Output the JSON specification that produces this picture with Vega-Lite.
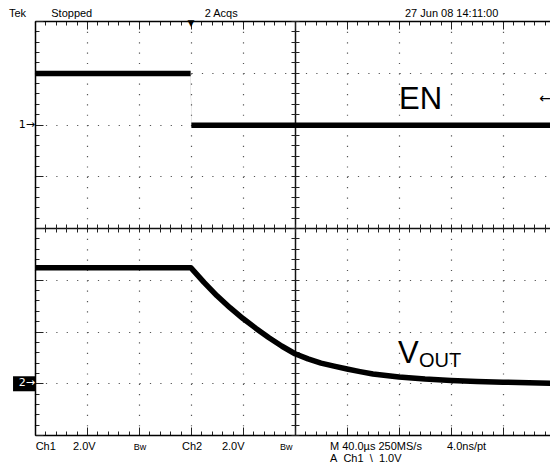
{
  "$schema": "https://vega.github.io/schema/vega-lite/v6.json",
  "width": 515,
  "height": 414,
  "autosize": {"type": "none"},
  "padding": {"left": 35, "top": 21, "right": 0, "bottom": 35},
  "background": "white",
  "data": {"values": [{}]},
  "config": {"view": {"stroke": null}, "text": {"font": "Liberation Sans", "color": "black"}},
  "datasets": {
    "en": [
      {"t": -120, "lo": 1.86, "hi": 2.08},
      {"t": -0.3, "lo": 1.86, "hi": 2.08},
      {"t": 0.3, "lo": -0.14, "hi": 0.08},
      {"t": 280, "lo": -0.14, "hi": 0.08}
    ],
    "vout": [
      {"t": -120, "v": 4.46},
      {"t": 0, "v": 4.46},
      {"t": 10, "v": 3.9},
      {"t": 20, "v": 3.38},
      {"t": 30, "v": 2.92},
      {"t": 40, "v": 2.5},
      {"t": 50, "v": 2.12},
      {"t": 60, "v": 1.76},
      {"t": 70, "v": 1.43},
      {"t": 80, "v": 1.14},
      {"t": 90, "v": 0.94},
      {"t": 100, "v": 0.78},
      {"t": 110, "v": 0.66},
      {"t": 120, "v": 0.55},
      {"t": 130, "v": 0.45},
      {"t": 140, "v": 0.36},
      {"t": 160, "v": 0.24},
      {"t": 180, "v": 0.16},
      {"t": 200, "v": 0.11},
      {"t": 220, "v": 0.07},
      {"t": 240, "v": 0.04},
      {"t": 260, "v": 0.02},
      {"t": 280, "v": 0.0}
    ]
  },
  "layer": [
    {
      "data": {"name": "en"},
      "mark": {"type": "area", "color": "black", "clip": true},
      "encoding": {
        "x": {"field": "t", "type": "quantitative", "scale": {"domain": [-120, 276.15], "nice": false, "zero": false},
          "axis": {"orient": "bottom", "title": null, "labels": false, "domain": true, "domainColor": "black", "domainWidth": 1.5,
            "values": [-120,-112,-104,-96,-88,-80,-72,-64,-56,-48,-40,-32,-24,-16,-8,0,8,16,24,32,40,48,56,64,72,80,88,96,104,112,120,128,136,144,152,160,168,176,184,192,200,208,216,224,232,240,248,256,264,272],
            "tickColor": "#222",
            "tickSize": {"condition": {"test": "datum.value % 40 === 0", "value": -8}, "value": -4},
            "grid": true,
            "gridOpacity": {"condition": {"test": "datum.value % 40 === 0", "value": 1}, "value": 0},
            "gridDash": {"condition": {"test": "datum.value === 80", "value": []}, "value": [1.2, 9.15]},
            "gridColor": {"condition": {"test": "datum.value === 80", "value": "#111"}, "value": "#555"},
            "gridWidth": {"condition": {"test": "datum.value === 80", "value": 1.5}, "value": 1.2}}},
        "y": {"field": "hi", "type": "quantitative", "scale": {"domain": [-12, 4], "nice": false, "zero": false},
          "axis": {"orient": "left", "title": null, "labels": false, "domain": true, "domainColor": "black", "domainWidth": 1.5,
            "values": [-12,-11.6,-11.2,-10.8,-10.4,-10,-9.6,-9.2,-8.8,-8.4,-8,-7.6,-7.2,-6.8,-6.4,-6,-5.6,-5.2,-4.8,-4.4,-4,-3.6,-3.2,-2.8,-2.4,-2,-1.6,-1.2,-0.8,-0.4,0,0.4,0.8,1.2,1.6,2,2.4,2.8,3.2,3.6,4],
            "tickColor": "#222",
            "tickSize": {"condition": {"test": "datum.value % 2 === 0", "value": -8}, "value": -4},
            "grid": true,
            "gridOpacity": {"condition": {"test": "datum.value % 2 === 0", "value": 1}, "value": 0},
            "gridDash": {"condition": {"test": "datum.value === -4", "value": []}, "value": [1.2, 9.2]},
            "gridColor": {"condition": {"test": "datum.value === -4", "value": "#111"}, "value": "#555"},
            "gridWidth": {"condition": {"test": "datum.value === -4", "value": 1.5}, "value": 1.2}}},
        "y2": {"field": "lo"}
      }
    },
    {
      "mark": {"type": "text", "text": "EN", "fontSize": 31, "align": "left", "baseline": "alphabetic"},
      "encoding": {
        "x": {"datum": 160, "type": "quantitative", "scale": {"domain": [-120, 276.15], "nice": false, "zero": false},
          "axis": {"orient": "top", "title": null, "labels": false, "domain": true, "domainColor": "black", "domainWidth": 1.5,
            "values": [-120,-112,-104,-96,-88,-80,-72,-64,-56,-48,-40,-32,-24,-16,-8,0,8,16,24,32,40,48,56,64,72,80,88,96,104,112,120,128,136,144,152,160,168,176,184,192,200,208,216,224,232,240,248,256,264,272],
            "tickColor": "#222",
            "tickSize": {"condition": {"test": "datum.value % 40 === 0", "value": -8}, "value": -4},
            "grid": false}},
        "y": {"datum": 0.58, "type": "quantitative", "scale": {"domain": [-12, 4], "nice": false, "zero": false},
          "axis": {"orient": "left", "offset": -264, "title": null, "labels": false, "domain": false,
            "values": [-12,-11.6,-11.2,-10.8,-10.4,-10,-9.6,-9.2,-8.8,-8.4,-8,-7.6,-7.2,-6.8,-6.4,-6,-5.6,-5.2,-4.8,-4.4,-4,-3.6,-3.2,-2.8,-2.4,-2,-1.6,-1.2,-0.8,-0.4,0,0.4,0.8,1.2,1.6,2,2.4,2.8,3.2,3.6,4],
            "tickColor": "#222", "tickSize": 8, "grid": false}}
      }
    },
    {
      "mark": {"type": "text", "text": "1→", "font": "DejaVu Sans", "fontSize": 11, "align": "right", "baseline": "middle"},
      "encoding": {
        "x": {"datum": -120, "type": "quantitative", "scale": {"domain": [-120, 276.15], "nice": false, "zero": false},
          "axis": {"orient": "bottom", "offset": -211, "title": null, "labels": false, "domain": false,
            "values": [-120,-112,-104,-96,-88,-80,-72,-64,-56,-48,-40,-32,-24,-16,-8,0,8,16,24,32,40,48,56,64,72,80,88,96,104,112,120,128,136,144,152,160,168,176,184,192,200,208,216,224,232,240,248,256,264,272],
            "tickColor": "#222", "tickSize": 8, "grid": false}},
        "y": {"datum": 0, "type": "quantitative", "scale": {"domain": [-12, 4], "nice": false, "zero": false}, "axis": null}
      }
    },
    {
      "data": {"name": "vout"},
      "mark": {"type": "line", "color": "black", "strokeWidth": 5.5, "interpolate": "linear", "strokeJoin": "round", "clip": true},
      "encoding": {
        "x": {"field": "t", "type": "quantitative", "scale": {"domain": [-120, 276.15], "nice": false, "zero": false}, "axis": null},
        "y": {"field": "v", "type": "quantitative", "scale": {"domain": [-2, 14], "nice": false, "zero": false}, "axis": null}
      }
    },
    {
      "mark": {"type": "text", "text": "V", "fontSize": 31, "align": "left", "baseline": "alphabetic"},
      "encoding": {
        "x": {"datum": 159.2, "type": "quantitative", "scale": {"domain": [-120, 276.15], "nice": false, "zero": false}, "axis": null},
        "y": {"datum": 0.77, "type": "quantitative", "scale": {"domain": [-2, 14], "nice": false, "zero": false}, "axis": null}
      }
    },
    {
      "mark": {"type": "text", "text": "OUT", "fontSize": 20, "align": "left", "baseline": "alphabetic"},
      "encoding": {
        "x": {"datum": 175.4, "type": "quantitative", "scale": {"domain": [-120, 276.15], "nice": false, "zero": false}, "axis": null},
        "y": {"datum": 0.615, "type": "quantitative", "scale": {"domain": [-2, 14], "nice": false, "zero": false}, "axis": null}
      }
    },
    {
      "mark": {"type": "rect", "color": "black"},
      "encoding": {
        "x": {"datum": -136.9, "type": "quantitative", "scale": {"domain": [-120, 276.15], "nice": false, "zero": false}, "axis": null},
        "x2": {"datum": -120},
        "y": {"datum": 0.27, "type": "quantitative", "scale": {"domain": [-2, 14], "nice": false, "zero": false}, "axis": null},
        "y2": {"datum": -0.31}
      }
    },
    {
      "mark": {"type": "text", "text": "2→", "font": "DejaVu Sans", "fontSize": 11, "align": "right", "baseline": "middle", "color": "white"},
      "encoding": {
        "x": {"datum": -120, "type": "quantitative", "scale": {"domain": [-120, 276.15], "nice": false, "zero": false}, "axis": null},
        "y": {"datum": 0, "type": "quantitative", "scale": {"domain": [-2, 14], "nice": false, "zero": false}, "axis": null}
      }
    },
    {
      "mark": {"type": "text", "text": "▼", "font": "DejaVu Sans", "fontSize": 9, "align": "center", "baseline": "middle"},
      "encoding": {
        "x": {"datum": 0, "type": "quantitative", "scale": {"domain": [-120, 276.15], "nice": false, "zero": false}, "axis": null},
        "y": {"datum": 3.94, "type": "quantitative", "scale": {"domain": [-12, 4], "nice": false, "zero": false}, "axis": null}
      }
    },
    {
      "mark": {"type": "text", "text": "←", "font": "DejaVu Sans", "fontSize": 14, "align": "center", "baseline": "middle"},
      "encoding": {
        "x": {"datum": 272.3, "type": "quantitative", "scale": {"domain": [-120, 276.15], "nice": false, "zero": false}, "axis": null},
        "y": {"datum": 1.0, "type": "quantitative", "scale": {"domain": [-12, 4], "nice": false, "zero": false}, "axis": null}
      }
    },
    {
      "mark": {"type": "text", "text": "Tek", "fontSize": 11, "align": "left", "baseline": "alphabetic"},
      "encoding": {
        "x": {"datum": -140, "type": "quantitative", "scale": {"domain": [-120, 276.15], "nice": false, "zero": false}, "axis": null},
        "y": {"datum": 4.154, "type": "quantitative", "scale": {"domain": [-12, 4], "nice": false, "zero": false}, "axis": null}
      }
    },
    {
      "mark": {"type": "text", "text": "Stopped", "fontSize": 11, "align": "left", "baseline": "alphabetic"},
      "encoding": {
        "x": {"datum": -107.5, "type": "quantitative", "scale": {"domain": [-120, 276.15], "nice": false, "zero": false}, "axis": null},
        "y": {"datum": 4.154, "type": "quantitative", "scale": {"domain": [-12, 4], "nice": false, "zero": false}, "axis": null}
      }
    },
    {
      "mark": {"type": "text", "text": "2 Acqs", "fontSize": 11, "align": "left", "baseline": "alphabetic"},
      "encoding": {
        "x": {"datum": 10.5, "type": "quantitative", "scale": {"domain": [-120, 276.15], "nice": false, "zero": false}, "axis": null},
        "y": {"datum": 4.154, "type": "quantitative", "scale": {"domain": [-12, 4], "nice": false, "zero": false}, "axis": null}
      }
    },
    {
      "mark": {"type": "text", "text": "27 Jun 08 14:11:00", "fontSize": 11, "align": "left", "baseline": "alphabetic"},
      "encoding": {
        "x": {"datum": 164.6, "type": "quantitative", "scale": {"domain": [-120, 276.15], "nice": false, "zero": false}, "axis": null},
        "y": {"datum": 4.154, "type": "quantitative", "scale": {"domain": [-12, 4], "nice": false, "zero": false}, "axis": null}
      }
    },
    {
      "mark": {"type": "text", "text": "Ch1", "fontSize": 11, "align": "left", "baseline": "alphabetic"},
      "encoding": {
        "x": {"datum": -119.5, "type": "quantitative", "scale": {"domain": [-120, 276.15], "nice": false, "zero": false}, "axis": null},
        "y": {"datum": -2.577, "type": "quantitative", "scale": {"domain": [-2, 14], "nice": false, "zero": false}, "axis": null}
      }
    },
    {
      "mark": {"type": "text", "text": "2.0V", "fontSize": 11, "align": "left", "baseline": "alphabetic"},
      "encoding": {
        "x": {"datum": -90.8, "type": "quantitative", "scale": {"domain": [-120, 276.15], "nice": false, "zero": false}, "axis": null},
        "y": {"datum": -2.577, "type": "quantitative", "scale": {"domain": [-2, 14], "nice": false, "zero": false}, "axis": null}
      }
    },
    {
      "mark": {"type": "text", "text": "Bw", "fontSize": 9, "align": "left", "baseline": "alphabetic"},
      "encoding": {
        "x": {"datum": -44, "type": "quantitative", "scale": {"domain": [-120, 276.15], "nice": false, "zero": false}, "axis": null},
        "y": {"datum": -2.577, "type": "quantitative", "scale": {"domain": [-2, 14], "nice": false, "zero": false}, "axis": null}
      }
    },
    {
      "mark": {"type": "text", "text": "Ch2", "fontSize": 11, "align": "left", "baseline": "alphabetic"},
      "encoding": {
        "x": {"datum": -6.9, "type": "quantitative", "scale": {"domain": [-120, 276.15], "nice": false, "zero": false}, "axis": null},
        "y": {"datum": -2.577, "type": "quantitative", "scale": {"domain": [-2, 14], "nice": false, "zero": false}, "axis": null}
      }
    },
    {
      "mark": {"type": "text", "text": "2.0V", "fontSize": 11, "align": "left", "baseline": "alphabetic"},
      "encoding": {
        "x": {"datum": 23.8, "type": "quantitative", "scale": {"domain": [-120, 276.15], "nice": false, "zero": false}, "axis": null},
        "y": {"datum": -2.577, "type": "quantitative", "scale": {"domain": [-2, 14], "nice": false, "zero": false}, "axis": null}
      }
    },
    {
      "mark": {"type": "text", "text": "Bw", "fontSize": 9, "align": "left", "baseline": "alphabetic"},
      "encoding": {
        "x": {"datum": 68.5, "type": "quantitative", "scale": {"domain": [-120, 276.15], "nice": false, "zero": false}, "axis": null},
        "y": {"datum": -2.577, "type": "quantitative", "scale": {"domain": [-2, 14], "nice": false, "zero": false}, "axis": null}
      }
    },
    {
      "mark": {"type": "text", "text": "M 40.0µs 250MS/s", "fontSize": 11, "align": "left", "baseline": "alphabetic"},
      "encoding": {
        "x": {"datum": 106.9, "type": "quantitative", "scale": {"domain": [-120, 276.15], "nice": false, "zero": false}, "axis": null},
        "y": {"datum": -2.577, "type": "quantitative", "scale": {"domain": [-2, 14], "nice": false, "zero": false}, "axis": null}
      }
    },
    {
      "mark": {"type": "text", "text": "4.0ns/pt", "fontSize": 11, "align": "left", "baseline": "alphabetic"},
      "encoding": {
        "x": {"datum": 196.9, "type": "quantitative", "scale": {"domain": [-120, 276.15], "nice": false, "zero": false}, "axis": null},
        "y": {"datum": -2.577, "type": "quantitative", "scale": {"domain": [-2, 14], "nice": false, "zero": false}, "axis": null}
      }
    },
    {
      "mark": {"type": "text", "text": "A\u00a0\u00a0Ch1\u00a0\u00a0\\\u00a0\u00a01.0V", "fontSize": 11, "align": "left", "baseline": "alphabetic"},
      "encoding": {
        "x": {"datum": 106.9, "type": "quantitative", "scale": {"domain": [-120, 276.15], "nice": false, "zero": false}, "axis": null},
        "y": {"datum": -3.038, "type": "quantitative", "scale": {"domain": [-2, 14], "nice": false, "zero": false}, "axis": null}
      }
    }
  ],
  "resolve": {"scale": {"y": "independent"}, "axis": {"x": "independent", "y": "independent"}}
}
